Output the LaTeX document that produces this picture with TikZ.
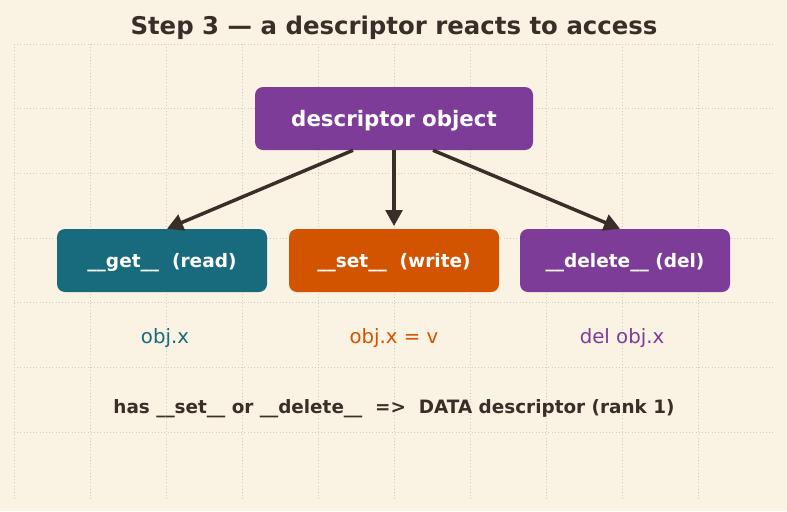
\documentclass[tikz,border=0pt]{standalone}
\usepackage{fontspec}
\setmainfont{DejaVu Sans}
\usetikzlibrary{arrows.meta,calc}
\definecolor{paper}{RGB}{250,243,228}
\definecolor{ink}{RGB}{58,46,40}
\definecolor{gridgray}{RGB}{212,203,186}
\definecolor{descpurple}{RGB}{125,60,152}
\definecolor{getteal}{RGB}{23,107,125}
\definecolor{setorange}{RGB}{211,84,0}
\tikzset{
  px/.style={x=0.75pt,y=-0.75pt},
  grid-dots/.style={gridgray, line width=0.5pt, dash pattern=on 0.8pt off 1.6pt},
  box/.style={
    rounded corners=6pt,
    inner sep=0pt,
    minimum height=47.25pt,
    text depth=0pt,
    text=white
  },
  box-top/.style={box, fill=descpurple, minimum width=208.5pt,
    font=\bfseries\fontsize{16}{18}\selectfont},
  box-hook/.style={box, minimum width=157.5pt,
    font=\bfseries\fontsize{13.9}{16}\selectfont},
  use-label/.style={font=\fontsize{14.8}{17}\selectfont},
  hook-arrow/.style={ink, line width=2.6pt, -{Triangle[length=12pt,width=12.5pt]}}
}

\begin{document}
\begin{tikzpicture}[px]
  \fill[paper] (0,0) rectangle (787,511);
  \useasboundingbox (0,0) rectangle (787,511);
  % Dotted grid
  \foreach \x in {0,...,9} {
    \draw[grid-dots] (14+76*\x,44) -- (14+76*\x,500);
  }
  \foreach \y in {0,...,6} {
    \draw[grid-dots] (14,44+64.7*\y) -- (775,44+64.7*\y);
  }
  % Title
  \node[ink, font=\bfseries\fontsize{18.3}{20}\selectfont] (title) at (394,27.5)
    {Step 3 — a descriptor reacts to access};
  % Boxes
  \node[box-top] (desc) at (394,118.5) {descriptor object};
  \node[box-hook, fill=getteal] (get) at (162,260.5) {\_\_get\_\_\ \ (read)};
  \node[box-hook, fill=setorange] (set) at (394,260.5) {\_\_set\_\_\ \ (write)};
  \node[box-hook, fill=descpurple] (del) at (625,260.5) {\_\_delete\_\_ (del)};
  % Arrows from the descriptor to each hook
  \draw[hook-arrow] ($(desc.south)+(-41,0)$) -- ($(get.north)+(5,0)$);
  \draw[hook-arrow, shorten >=2pt] (desc.south) -- (set.north);
  \draw[hook-arrow] ($(desc.south)+(39,0)$) -- ($(del.north)+(-5,0)$);
  % What triggers each hook
  \node[use-label, getteal] (get-use) at (165,338) {obj.x};
  \node[use-label, setorange] (set-use) at (394,338) {obj.x = v};
  \node[use-label, descpurple] (del-use) at (622,338) {del obj.x};
  % Rule
  \node[ink, font=\bfseries\fontsize{13.8}{16}\selectfont] (rule) at (394,409)
    {has \_\_set\_\_ or \_\_delete\_\_\ \ =>\ \ DATA descriptor (rank 1)};
\end{tikzpicture}
\end{document}
